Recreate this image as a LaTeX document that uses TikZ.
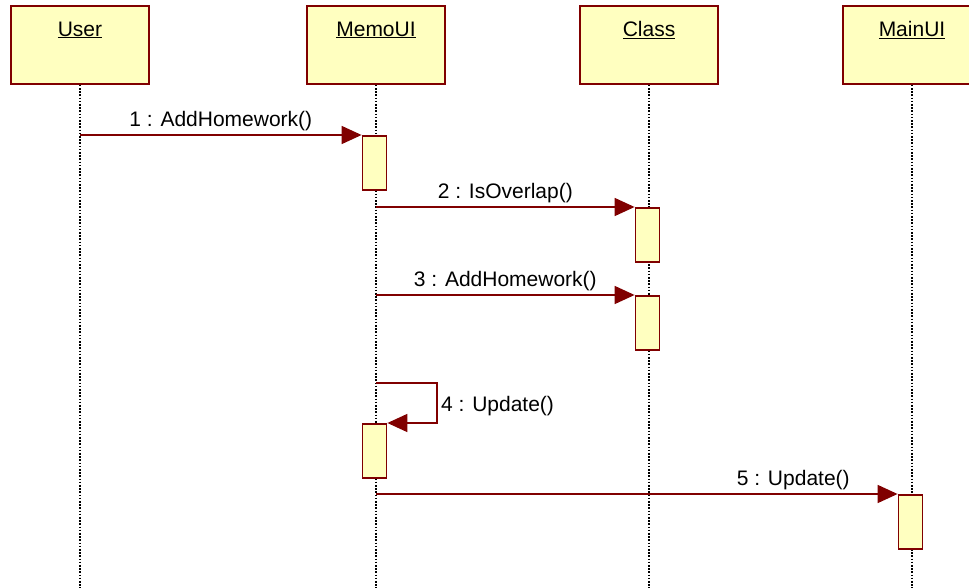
\documentclass[tikz,border=0pt]{standalone}
\usepackage{fontspec}
\setmainfont{Liberation Sans}
\usetikzlibrary{arrows.meta}
\definecolor{umlred}{RGB}{128,0,0}
\definecolor{umlfill}{RGB}{255,255,192}
\begin{document}
\begin{tikzpicture}[x=1pt,y=-1pt,font=\fontsize{21}{25}\selectfont,
    >={Triangle[length=20pt,width=18pt]},
    obj/.style={draw=umlred,fill=umlfill,line width=1.8pt,minimum width=138pt,minimum height=78pt,inner sep=0pt},
    act/.style={draw=umlred,fill=umlfill,line width=1.8pt,minimum width=24pt,minimum height=54pt,inner sep=0pt,anchor=north,xshift=-1.5pt},
    life/.style={line width=1.6pt,dash pattern=on 1.6pt off 1.6pt},
    msg/.style={->,draw=umlred,line width=1.6pt}]
    \useasboundingbox (0,0) rectangle (969,588);
    \clip (0,0) rectangle (969,588);
    \coordinate (bottom) at (0,588);
    \node[obj] (user) at (80,45) {};
    \node[obj] (memo) at (376,45) {};
    \node[obj] (class) at (649,45) {};
    \node[obj] (main) at (912,45) {};
    \foreach \o/\t in {user/User,memo/MemoUI,class/Class,main/MainUI}
      \node[anchor=north] (\o-name) at ([yshift=-13pt]\o.north) {\underline{\t}};
    \foreach \o in {user,memo,class,main}
      \draw[life] (\o.south) -- (\o |- bottom);
    \node[act] (act1) at (memo |- 0,135) {};
    \node[act] (act2) at (class |- 0,207) {};
    \node[act] (act3) at (class |- 0,295) {};
    \node[act] (act4) at (memo |- 0,423) {};
    \node[act] (act5) at (main |- 0,494) {};
    \coordinate (self) at (memo |- 0,383);
    \draw[msg] (user |- act1.north) -- (act1.north west) node[midway,above=0pt]{1 : AddHomework()};
    \draw[msg] (memo |- act2.north) -- (act2.north west) node[midway,above=0pt]{2 : IsOverlap()};
    \draw[msg] (memo |- act3.north) -- (act3.north west) node[midway,above=0pt]{3 : AddHomework()};
    \draw[msg] (self) -- ++(61,0) |- (act4.north east) node[pos=.25,right=0pt,yshift=-3pt]{4 : Update()};
    \draw[msg] (memo |- act5.north) -- (act5.north west) node[pos=.8,above=0pt]{5 : Update()};
\end{tikzpicture}
\end{document}
